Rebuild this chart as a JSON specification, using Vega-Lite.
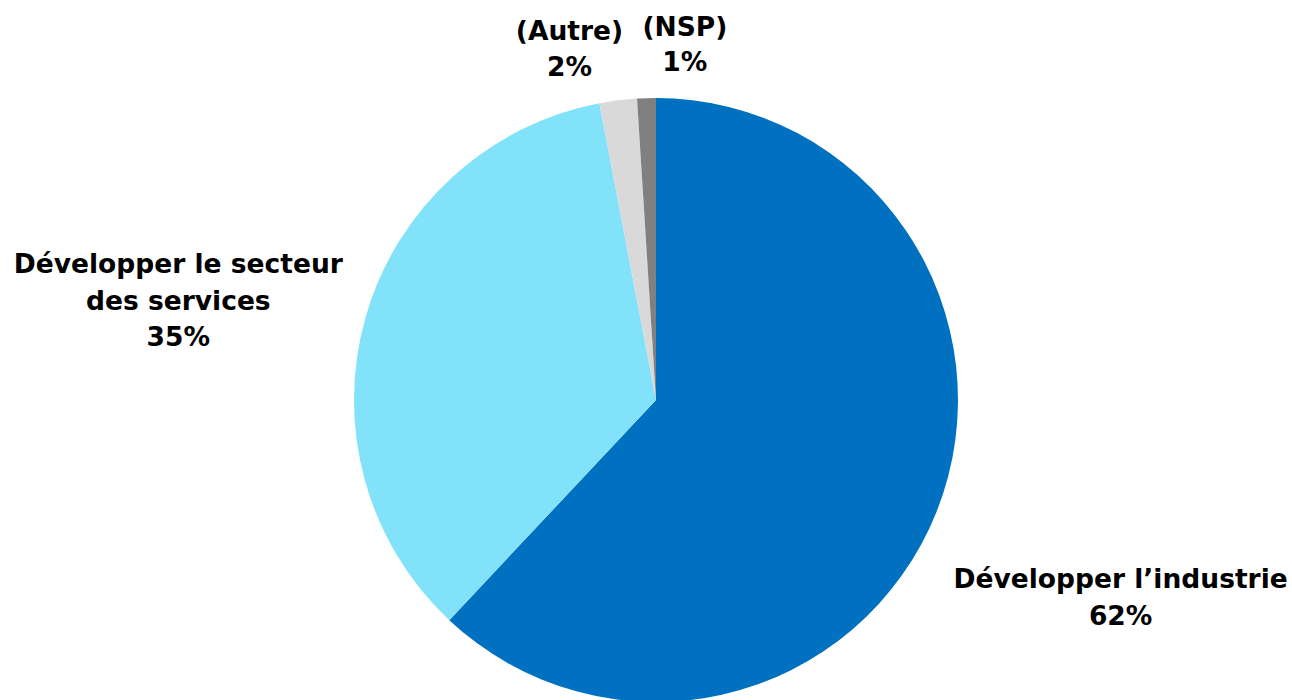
{
  "$schema": "https://vega.github.io/schema/vega-lite/v6.json",
  "width": 1272,
  "height": 600,
  "autosize": {"type": "none"},
  "padding": {"left": 20, "top": 100, "right": 0, "bottom": 0},
  "background": "#ffffff",
  "config": {"view": {"stroke": null}},
  "data": {
    "values": [
      {"cat": "Industrie", "etiquette": "Développer l’industrie\n62%", "valeur": 62, "ordre": 1},
      {"cat": "Services", "etiquette": "Développer le secteur\ndes services\n35%", "valeur": 35, "ordre": 2},
      {"cat": "Autre", "etiquette": "(Autre)\n2%", "valeur": 2, "ordre": 3},
      {"cat": "NSP", "etiquette": "(NSP)\n1%", "valeur": 1, "ordre": 4}
    ]
  },
  "encoding": {
    "theta": {"field": "valeur", "type": "quantitative", "stack": true},
    "order": {"field": "ordre", "type": "quantitative", "sort": "ascending"}
  },
  "layer": [
    {
      "mark": {"type": "arc", "outerRadius": 302},
      "encoding": {
        "color": {
          "field": "cat",
          "type": "nominal",
          "sort": null,
          "scale": {"domain": ["Industrie", "Services", "Autre", "NSP"], "range": ["#0070C0", "#81E2F9", "#D9D9D9", "#808080"]},
          "legend": null
        }
      }
    },
    {
      "mark": {"type": "text", "radius": 504, "dx": -4, "dy": -6, "font": "DejaVu Sans", "fontWeight": "bold", "fontSize": 26.5, "lineHeight": 37, "lineBreak": "\n", "align": "center", "baseline": "middle", "color": "#000000"},
      "encoding": {"text": {"condition": {"test": "datum.cat === 'Industrie'", "field": "etiquette"}, "value": ""}}
    },
    {
      "mark": {"type": "text", "radius": 487, "dx": -10, "dy": 1, "font": "DejaVu Sans", "fontWeight": "bold", "fontSize": 26.5, "lineHeight": 36.5, "lineBreak": "\n", "align": "center", "baseline": "middle", "color": "#000000"},
      "encoding": {"text": {"condition": {"test": "datum.cat === 'Services'", "field": "etiquette"}, "value": ""}}
    },
    {
      "mark": {"type": "text", "radius": 355, "dx": -42, "dy": -16, "font": "DejaVu Sans", "fontWeight": "bold", "fontSize": 26.5, "lineHeight": 36, "lineBreak": "\n", "align": "center", "baseline": "middle", "color": "#000000"},
      "encoding": {"text": {"condition": {"test": "datum.cat === 'Autre'", "field": "etiquette"}, "value": ""}}
    },
    {
      "mark": {"type": "text", "radius": 355, "dx": 40, "dy": -17, "font": "DejaVu Sans", "fontWeight": "bold", "fontSize": 26.5, "lineHeight": 35, "lineBreak": "\n", "align": "center", "baseline": "middle", "color": "#000000"},
      "encoding": {"text": {"condition": {"test": "datum.cat === 'NSP'", "field": "etiquette"}, "value": ""}}
    }
  ]
}
